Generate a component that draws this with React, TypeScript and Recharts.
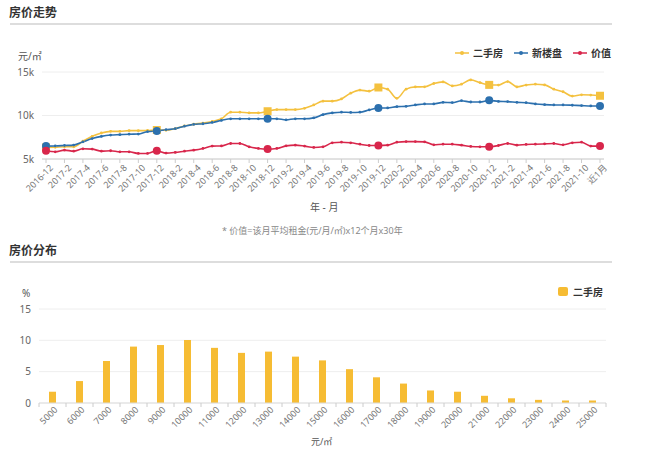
import React from 'react';
import { LineChart, Line, BarChart, Bar, XAxis, YAxis, CartesianGrid } from 'recharts';

const FONT = '"Noto Sans", "Noto Sans CJK SC", sans-serif';

const months = [
  '2016-12', '2017-1', '2017-2', '2017-3', '2017-4', '2017-5', '2017-6', '2017-7', '2017-8', '2017-9', '2017-10', '2017-11',
  '2017-12', '2018-1', '2018-2', '2018-3', '2018-4', '2018-5', '2018-6', '2018-7', '2018-8', '2018-9', '2018-10', '2018-11',
  '2018-12', '2019-1', '2019-2', '2019-3', '2019-4', '2019-5', '2019-6', '2019-7', '2019-8', '2019-9', '2019-10', '2019-11',
  '2019-12', '2020-1', '2020-2', '2020-3', '2020-4', '2020-5', '2020-6', '2020-7', '2020-8', '2020-9', '2020-10', '2020-11',
  '2020-12', '2021-1', '2021-2', '2021-3', '2021-4', '2021-5', '2021-6', '2021-7', '2021-8', '2021-9', '2021-10', '2021-11',
  '近1月',
];

// 二手房
const secondHand = [
  6330, 6350, 6400, 6400, 7040, 7610, 7990, 8180, 8180, 8260, 8260, 8280,
  8330, 8300, 8490, 8800, 9000, 9130, 9320, 9620, 10380, 10380, 10300, 10300,
  10490, 10680, 10680, 10680, 10830, 11210, 11650, 11650, 11900, 12570, 12920, 12800,
  13220, 13030, 11970, 13030, 13290, 13300, 13680, 13860, 13400, 13600, 14090, 13780,
  13520, 13500, 13900, 13290, 13500, 13600, 13520, 13030, 12730, 12230, 12380, 12350,
  12270,
];

// 新楼盘
const newHomes = [
  6480, 6500, 6550, 6600, 6970, 7350, 7600, 7750, 7800, 7850, 7870, 8150,
  8220, 8370, 8480, 8770, 8980, 9050, 9200, 9430, 9620, 9620, 9620, 9620,
  9620, 9620, 9500, 9620, 9620, 9730, 10100, 10300, 10380, 10350, 10380, 10640,
  10870, 10870, 11020, 11050, 11210, 11330, 11330, 11510, 11480, 11700, 11550, 11550,
  11740, 11620, 11600, 11510, 11470, 11330, 11250, 11210, 11210, 11180, 11140, 11100,
  11100,
];

// 价值
const rentValue = [
  5950, 5830, 6020, 5900, 6170, 6140, 5900, 5950, 5830, 5830, 5640, 5640,
  5950, 5680, 5760, 5900, 6020, 6210, 6480, 6500, 6780, 6780, 6400, 6210,
  6140, 6210, 6510, 6590, 6480, 6330, 6400, 6860, 6930, 6860, 6700, 6550,
  6550, 6590, 6930, 7000, 7000, 6970, 6630, 6700, 6700, 6590, 6440, 6400,
  6400, 6550, 6780, 6590, 6670, 6700, 6740, 6780, 6630, 6860, 6930, 6480,
  6480,
];

const priceTicks = [5000, 10000, 15000];

const priceBins = [
  '5000', '6000', '7000', '8000', '9000', '10000', '11000', '12000', '13000', '14000', '15000',
  '16000', '17000', '18000', '19000', '20000', '21000', '22000', '23000', '24000', '25000',
];
const binShare = [1.8, 3.5, 6.7, 9.0, 9.25, 10.05, 8.8, 8.0, 8.2, 7.4, 6.8, 5.4, 4.1, 3.1, 2.0, 1.8, 1.15, 0.75, 0.5, 0.4, 0.4];
const shareTicks = [0, 5, 10, 15];

const trendData = months.map((m, i) => ({ month: m, secondHand: secondHand[i], newHomes: newHomes[i], rentValue: rentValue[i] }));
const distData = priceBins.map((b, i) => ({ bin: b, share: binShare[i] }));

const YELLOW = '#F4C13F';
const BLUE = '#2C70AE';
const RED = '#D8264B';
const BAR = '#F6BC33';

const BIG_MARKS = [0, 12, 24, 36, 48, 60];

const makeDot = (color: string, square: boolean) => (props: any) => {
  const { cx, cy, index } = props;
  if (cx == null || cy == null) return <g key={index} />;
  if (BIG_MARKS.includes(index)) {
    return square ? (
      <rect key={index} x={cx - 4} y={cy - 4} width={8} height={8} fill={color} />
    ) : (
      <circle key={index} cx={cx} cy={cy} r={4} fill={color} />
    );
  }
  return <circle key={index} cx={cx} cy={cy} r={1.4} fill={color} />;
};

const MonthTick = ({ x, y, payload }: any) => (
  <g transform={`translate(${x + 2},${y + 2})`}>
    <text x={0} y={0} dx={3} dy={5} textAnchor="end" transform="rotate(-45)" fontSize={9} fill="#777" fontFamily={FONT}>
      {payload.value}
    </text>
  </g>
);

const BAR_PLOT_LEFT = 39;
const BAR_PLOT_RIGHT = 606;
const BAND = (BAR_PLOT_RIGHT - BAR_PLOT_LEFT) / priceBins.length;

const BinTick = ({ x, y, payload, index }: any) => (
  <g>
    <line x1={x - BAND / 2} x2={x - BAND / 2} y1={y} y2={y + 4} stroke="#ccc" />
    {index === priceBins.length - 1 && <line x1={x + BAND / 2} x2={x + BAND / 2} y1={y} y2={y + 4} stroke="#ccc" />}
    <g transform={`translate(${x},${y + 6})`}>
      <text x={0} y={0} dx={3} dy={5} textAnchor="end" transform="rotate(-45)" fontSize={9} fill="#777" fontFamily={FONT}>
        {payload.value}
      </text>
    </g>
  </g>
);

const LegendItem = ({ color, label }: { color: string; label: string }) => (
  <div style={{ display: 'flex', alignItems: 'center', gap: 4 }}>
    <svg width={14} height={6}>
      <line x1={0} x2={14} y1={3} y2={3} stroke={color} strokeWidth={1.5} />
      <circle cx={7} cy={3} r={2} fill={color} />
    </svg>
    <span>{label}</span>
  </div>
);

const abs = (left: number, top: number): React.CSSProperties => ({ position: 'absolute', left, top });

export default function App() {
  return (
    <div style={{ position: 'absolute', left: 0, top: 0, width: 650, height: 471, background: '#fff', fontFamily: FONT, overflow: 'hidden' }}>
      <div style={{ ...abs(9, 3), fontSize: 12, fontWeight: 700, color: '#333' }}>房价走势</div>
      <div style={{ ...abs(10, 23), width: 602, height: 2, background: '#ddd' }} />
      <div style={{ ...abs(18, 48), fontSize: 10, color: '#555' }}>元/㎡</div>
      <div style={{ ...abs(455, 45), display: 'flex', gap: 11, fontSize: 10, fontWeight: 700, color: '#333' }}>
        <LegendItem color={YELLOW} label="二手房" />
        <LegendItem color={BLUE} label="新楼盘" />
        <LegendItem color={RED} label="价值" />
      </div>

      <div style={abs(0, 0)}>
        <LineChart width={650} height={240} data={trendData} margin={{ top: 72, right: 46, left: 0, bottom: 0 }}>
          <CartesianGrid vertical={false} stroke="#eee" />
          <XAxis
            dataKey="month"
            interval={1}
            height={81}
            padding={{ left: 4, right: 4 }}
            stroke="#ccc"
            tickSize={4}
            tickMargin={2}
            tick={<MonthTick />}
          />
          <YAxis
            width={42}
            domain={[5000, 15000]}
            ticks={priceTicks}
            axisLine={false}
            tickLine={false}
            tickFormatter={(v: number) => `${v / 1000}k`}
            tick={{ fontSize: 10, fill: '#666', fontFamily: FONT }}
          />
          <Line type="monotone" dataKey="secondHand" name="二手房" stroke={YELLOW} strokeWidth={1.6} dot={makeDot(YELLOW, true)} isAnimationActive={false} />
          <Line type="monotone" dataKey="newHomes" name="新楼盘" stroke={BLUE} strokeWidth={1.6} dot={makeDot(BLUE, false)} isAnimationActive={false} />
          <Line type="monotone" dataKey="rentValue" name="价值" stroke={RED} strokeWidth={1.6} dot={makeDot(RED, false)} isAnimationActive={false} />
        </LineChart>
      </div>

      <div style={{ ...abs(310, 199), fontSize: 10, color: '#555' }}>年 - 月</div>
      <div style={{ ...abs(222, 224), fontSize: 9, color: '#888' }}>* 价值=该月平均租金(元/月/㎡)x12个月x30年</div>

      <div style={{ ...abs(9, 241), fontSize: 12, fontWeight: 700, color: '#333' }}>房价分布</div>
      <div style={{ ...abs(10, 261), width: 602, height: 2, background: '#ddd' }} />
      <div style={{ ...abs(22, 286), fontSize: 10, color: '#555' }}>%</div>
      <div style={{ ...abs(558, 284), display: 'flex', alignItems: 'center', gap: 5, fontSize: 10, fontWeight: 700, color: '#333' }}>
        <div style={{ width: 10, height: 9, background: BAR, borderRadius: 2 }} />
        <span>二手房</span>
      </div>

      <div style={abs(0, 240)}>
        <BarChart width={650} height={231} data={distData} margin={{ top: 69, right: 650 - BAR_PLOT_RIGHT, left: 0, bottom: 0 }}>
          <CartesianGrid vertical={false} stroke="#eee" />
          <XAxis dataKey="bin" interval={0} height={68} stroke="#ddd" tickLine={false} tickSize={0} tickMargin={0} tick={<BinTick />} />
          <YAxis
            width={BAR_PLOT_LEFT}
            domain={[0, 15]}
            ticks={shareTicks}
            axisLine={false}
            tickLine={false}
            tick={{ fontSize: 10, fill: '#666', fontFamily: FONT }}
          />
          <Bar dataKey="share" name="二手房" fill={BAR} barSize={7} isAnimationActive={false} />
        </BarChart>
      </div>

      <div style={{ ...abs(311, 435), fontSize: 9, color: '#555' }}>元/㎡</div>
    </div>
  );
}
